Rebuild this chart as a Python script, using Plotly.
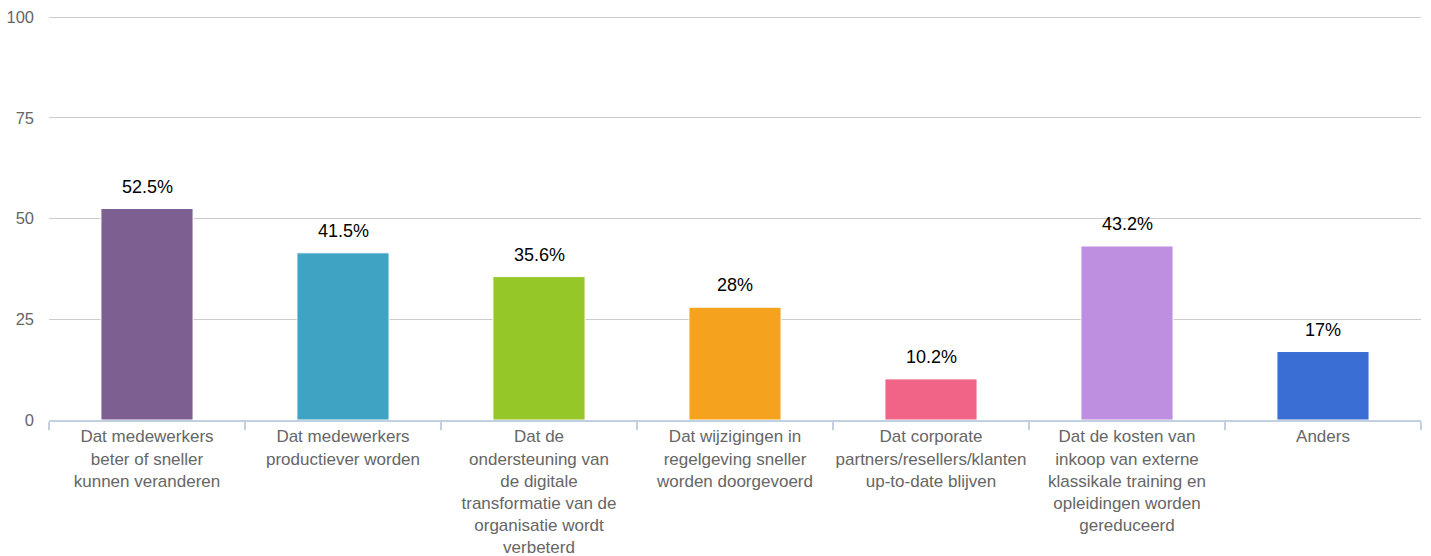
import plotly.graph_objects as go

categories = [
    "Dat medewerkers<br>beter of sneller<br>kunnen veranderen",
    "Dat medewerkers<br>productiever worden",
    "Dat de<br>ondersteuning van<br>de digitale<br>transformatie van de<br>organisatie wordt<br>verbeterd",
    "Dat wijzigingen in<br>regelgeving sneller<br>worden doorgevoerd",
    "Dat corporate<br>partners/resellers/klanten<br>up-to-date blijven",
    "Dat de kosten van<br>inkoop van externe<br>klassikale training en<br>opleidingen worden<br>gereduceerd",
    "Anders",
]
values = [52.5, 41.5, 35.6, 28, 10.2, 43.2, 17]
labels = ["52.5%", "41.5%", "35.6%", "28%", "10.2%", "43.2%", "17%"]
colors = ["#7D5F92", "#3FA3C4", "#94C727", "#F5A31E", "#F06488", "#BE8FE0", "#3A6ED4"]
y_ticks = [0, 25, 50, 75, 100]

font = "Liberation Sans, Arial, sans-serif"

fig = go.Figure(go.Bar(
    x=categories, y=values,
    marker=dict(color=colors, line=dict(color="#ffffff", width=1)),
    width=0.47,
    hoverinfo="skip",
))

for c, v, t in zip(categories, values, labels):
    fig.add_annotation(x=c, y=v, text=t, showarrow=False, yanchor="middle",
                       yshift=22, font=dict(family=font, size=18, color="#000000"))

fig.update_layout(
    width=1431, height=556,
    margin=dict(l=49, r=10, t=16, b=136),
    paper_bgcolor="white", plot_bgcolor="white",
    showlegend=False,
    font=dict(family=font),
)
fig.update_xaxes(
    type="category",
    tickangle=0,
    automargin=False,
    tickfont=dict(family=font, size=17, color="#666666"),
    showgrid=False,
    showline=True, linecolor="#C0D0E0", linewidth=2,
    ticks="outside", tickson="boundaries", ticklen=8, tickcolor="#C0D0E0", tickwidth=2,
    range=[-0.5, 6.5],
)
fig.update_yaxes(
    range=[0, 100.3],
    tickvals=y_ticks,
    automargin=False,
    tickfont=dict(family=font, size=16.5, color="#666666"),
    showgrid=True, gridcolor="#CCCCCC", gridwidth=1,
    zeroline=False, showline=False,
    ticklabelstandoff=14,
)

fig.write_html("out.html", config={"displayModeBar": False},
               post_script="document.body.style.margin='0';")
